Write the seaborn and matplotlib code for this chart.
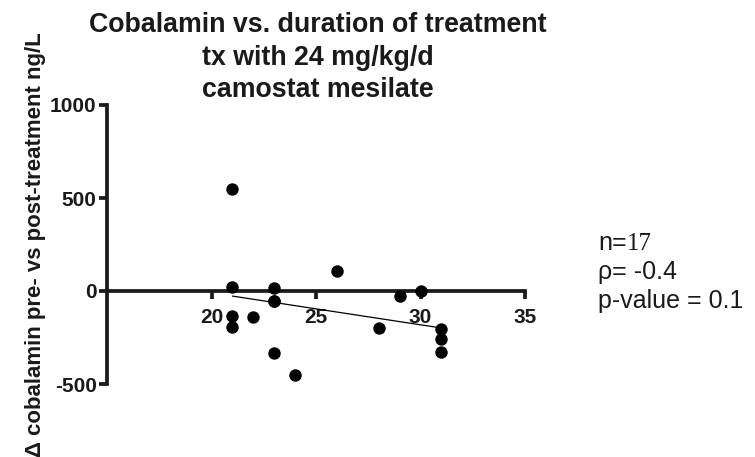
import matplotlib
matplotlib.use("Agg")
import matplotlib.pyplot as plt
import seaborn as sns
import numpy as np
import pandas as pd

# Data
duration_days = [21, 21, 21, 21, 22, 23, 23, 23, 23, 24, 26, 28, 29, 30, 31, 31, 31]
delta_cobalamin = [550, 20, -137, -191, -139, 16, -56, -56, -331, -454, 110, -200, -29, 2, -205, -256, -326]
x_ticks = [20, 25, 30, 35]
y_ticks = [-500, 0, 500, 1000]
title_text = "Cobalamin vs. duration of treatment\ntx with 24 mg/kg/d\ncamostat mesilate"
y_label = "\u0394 cobalamin pre- vs post-treatment ng/L"
stats_lines = ["n=", "\u03c1= -0.4", "p-value = 0.1"]
n_value = "17"

df = pd.DataFrame({"days": duration_days, "delta": delta_cobalamin})

sns.set_theme(style="white")
plt.rcParams['font.family'] = ['Liberation Sans', 'DejaVu Sans']
plt.rcParams['axes.unicode_minus'] = False

W, H = 755, 457
fig = plt.figure(figsize=(W / 100, H / 100), dpi=100)
ax = fig.add_axes([107 / W, 1 - 384 / H, (525 - 107) / W, (384 - 105) / H])

sns.regplot(data=df, x="days", y="delta", ax=ax, ci=None, truncate=True,
            scatter_kws=dict(s=80, color="black", alpha=1, linewidths=0, clip_on=False, zorder=5),
            line_kws=dict(color="black", linewidth=0.9, zorder=4))

ax.set_xlim(15, 35)
ax.set_ylim(-500, 1000)
ax.set_xticks(x_ticks)
ax.set_yticks(y_ticks)
ax.set_xlabel("")
ax.set_ylabel(y_label, fontsize=16, fontweight="bold", labelpad=3, color="#1a1a1a")

for s in ["top", "right"]:
    ax.spines[s].set_visible(False)
ax.spines["bottom"].set_position(("data", 0))
for s in ["left", "bottom"]:
    ax.spines[s].set_linewidth(2.7)
    ax.spines[s].set_color("#1a1a1a")
    ax.spines[s].set_zorder(3)

ax.tick_params(axis="both", which="major", direction="out", length=6, width=2.7,
               left=True, bottom=True,
               color="#1a1a1a", labelsize=15, labelcolor="#1a1a1a")
ax.tick_params(axis="x", pad=6)
ax.tick_params(axis="y", pad=1.5)
for lab in ax.get_xticklabels() + ax.get_yticklabels():
    lab.set_fontweight("bold")

fig.text(318 / W, 1 - 12 / H, title_text, ha="center", va="top", fontsize=19.3,
         fontweight="bold", linespacing=1.33, color="#1a1a1a")

# stats annotation
base_x = 598 / W
baselines = [250, 279, 308]
fs = 18
t_n = fig.text(base_x, 1 - baselines[0] / H, stats_lines[0], ha="left", va="baseline",
               fontsize=fs, color="#1a1a1a")
fig.canvas.draw()
bb = t_n.get_window_extent(renderer=fig.canvas.get_renderer())
fig.text(bb.x1 / W, 1 - baselines[0] / H, n_value, ha="left", va="baseline",
         fontsize=fs, family="Liberation Serif", color="#1a1a1a")
for line, b in zip(stats_lines[1:], baselines[1:]):
    fig.text(base_x, 1 - b / H, line, ha="left", va="baseline", fontsize=fs, color="#1a1a1a")

fig.savefig("out.png", dpi=100)
